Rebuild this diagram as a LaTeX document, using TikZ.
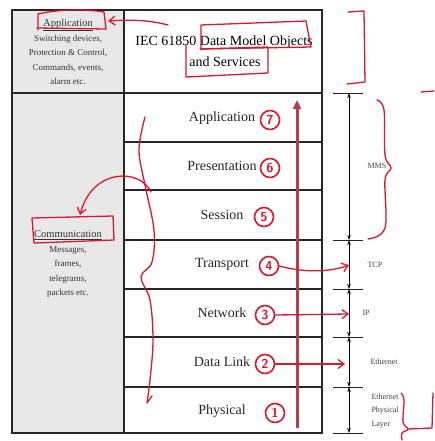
\documentclass[tikz,border=0pt]{standalone}
\usepackage{fontspec}
\setmainfont{Liberation Serif}
\usepackage{xcolor}
\usetikzlibrary{positioning,arrows.meta}

\definecolor{inkred}{RGB}{218,24,48}
\definecolor{barred}{RGB}{178,62,78}

\begin{document}
\begin{tikzpicture}[x=1pt, y=-1pt, font=\fontsize{14}{16}\selectfont,
    rule/.style={line width=1.4pt, black!85},
    ink/.style={inkred, line width=1.3pt, line cap=round, line join=round},
    inkarrow/.style={ink, -{Straight Barb[length=6pt, width=9pt]}},
    circ/.style={circle, draw=inkred, line width=1.6pt, inner sep=0pt, minimum size=19pt, text=inkred, font=\fontsize{13}{13}\selectfont\sffamily\bfseries},
    side/.style={font=\fontsize{9}{14.5}\selectfont, text=black!80, align=center},
    dimlabel/.style={font=\fontsize{8}{13.5}\selectfont, text=black!75, align=left, anchor=west}]
  \useasboundingbox (0,0) rectangle (434,441);
  \fill[white] (0,0) rectangle (434,441);

  % table frame
  \fill[black!9] (12,10) rectangle (124,433);
  \draw[rule] (12,10) rectangle (322,433);
  \draw[rule] (124,10) -- (124,433);
  \draw[rule] (12,93) -- (322,93);
  \foreach \y in {142,190,240,289,337,387}
    \draw[rule] (124,\y) -- (322,\y);

  % header row
  \node (iec) at (224,42) {IEC 61850 Data Model Objects};
  \node (svc) at (225,62) {and Services};
  \node[side] (apptxt) at (68,52) {{\fontsize{10.5}{12}\selectfont\underline{Application}}\\Switching devices,\\Protection \& Control,\\Commands, events,\\alarm etc.};
  \node[side] (comtxt) at (68,264) {{\fontsize{10.5}{12}\selectfont\underline{Communication}}\\Messages,\\frames,\\telegrams,\\packets etc.};

  % OSI layers
  \foreach \name/\y/\n/\cx in {Application/118/7/270, Presentation/166/6/270, Session/215/5/264,
      Transport/264/4/269, Network/313/3/265, Data Link/362/2/265, Physical/411/1/275} {
    \node[text=black!85] (layer\n) at (222,\y) {\name};
    \node[circ] (num\n) at (\cx,\y+2) {\n};
  }

  % dimension line
  \foreach \y [count=\i from 0] in {93,240,289,337,387,433} {
    \draw[black!85, line width=0.8pt] (333,\y) -- (363,\y);
    \coordinate (d\i) at (349,\y);
  }
  \foreach \a/\b in {0/1,1/2,2/3,3/4,4/5}
    \draw[black, line width=0.7pt, {Stealth[length=5pt,width=3.5pt]}-{Stealth[length=5pt,width=3.5pt]}] (d\a) -- (d\b);
  \node[dimlabel] (mms) at (364,166) {MMS};
  \node[dimlabel] (tcp) at (364,265) {TCP};
  \node[dimlabel] (ip) at (359,313) {IP};
  \node[dimlabel] (eth) at (367,362) {Ethernet};
  \node[dimlabel] (phy) at (368,411) {Ethernet\\Physical\\Layer};

  % hand-drawn marks
  \coordinate (barbot) at (297,428);
  \coordinate (bartop) at (297,100);
  \draw[barred, line width=3pt, -{Triangle[length=9pt, width=8pt]}] (barbot) -- (bartop);

  \draw[ink] (38,30) -- (38,14) .. controls (60,9) and (85,9) .. (104,12) -- (106,29) -- (37,28);
  \coordinate (arrstart) at (168,25);
  \coordinate (appbox) at (108,21);
  \draw[inkarrow] (arrstart) .. controls (145,19) and (125,20) .. (appbox);

  \draw[ink] (201,50) -- (201,25) -- (306,21) -- (311,47) -- (201,49);
  \draw[ink] (186,45) -- (186,77) -- (268,73) -- (268,47) -- (200,49);

  \draw[ink] (348,12) -- (364,11) -- (365,82) -- (347,84);
  \draw[ink] (421,92) -- (434,91);

  \draw[ink] plot[smooth, tension=0.6] coordinates {(377,100) (384,110) (385,155) (391,168) (385,180) (385,228) (368,239)};
  \draw[ink] plot[smooth, tension=0.6] coordinates {(401,393) (404,400) (403,422) (408,429) (402,433) (402,440)};
  \draw[ink] (408,429) -- (432,428) -- (433,393);

  \draw[ink] (32,218) -- (113,216) -- (114,240) -- (34,243) -- cycle;
  \coordinate (comstart) at (151,192);
  \coordinate (combox) at (80,215);
  \draw[inkarrow] (comstart) .. controls (140,168) and (92,168) .. (combox);

  \draw[ink] plot[smooth, tension=0.6] coordinates {(145,117) (139,150) (145,185) (154,230) (152,262) (141,277) (150,300) (153,340) (150,380) (147,403)} -- (152,396);

  \draw[inkarrow] (num4.east) .. controls (305,273) and (330,272) .. (d2 |- tcp.west);
  \draw[inkarrow] (num3.east) -- ([yshift=-1pt]d3 |- ip.west);
  \draw[inkarrow] (num2.east) -- ([xshift=-4pt, yshift=-2pt]d4 |- eth.west);
\end{tikzpicture}
\end{document}
